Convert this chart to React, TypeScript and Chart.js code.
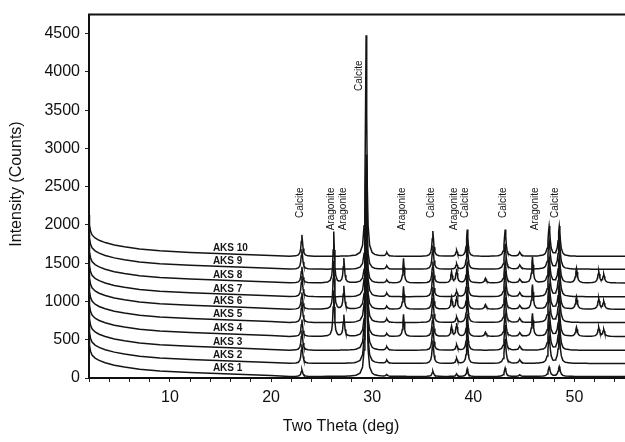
import React, { useEffect, useRef } from 'react';
import { Chart, registerables } from 'chart.js';

Chart.register(...registerables);

// ---- data ----
const SAMPLES = ['AKS 1', 'AKS 2', 'AKS 3', 'AKS 4', 'AKS 5', 'AKS 6', 'AKS 7', 'AKS 8', 'AKS 9', 'AKS 10'];
// vertical offset (counts) of each pattern
const OFFSETS = [0, 170, 342, 522, 705, 878, 1042, 1222, 1402, 1570];

// low-angle background rise above each pattern's offset (counts)
const BG_X = [2.0, 2.05, 2.15, 2.3, 2.6, 3.0, 3.6, 4.5, 5.5, 7, 9, 12, 16, 20];
const BG_Y = [560, 430, 350, 300, 260, 230, 200, 168, 145, 115, 92, 72, 52, 32];
const TAIL = 20;

// peak positions (deg 2θ) and half widths
const PEAK_POS = [23.05, 26.2, 27.2, 29.4, 31.45, 33.1, 36.0, 37.85, 38.35, 39.4, 41.2, 43.15, 44.6, 45.85, 47.5, 48.5, 50.2, 52.4, 52.9];
const PEAK_W = [0.09, 0.08, 0.08, 0.08, 0.1, 0.08, 0.09, 0.08, 0.09, 0.09, 0.1, 0.1, 0.12, 0.09, 0.12, 0.12, 0.1, 0.1, 0.1];

// peak heights (counts above baseline) per sample, aligned with PEAK_POS
const AKS1_H = [90, 0, 0, 2500, 20, 0, 70, 0, 30, 100, 0, 110, 20, 0, 120, 130, 0, 0, 0];
const AKS2_H = [250, 0, 0, 2300, 40, 0, 300, 0, 65, 320, 0, 320, 45, 0, 350, 370, 0, 0, 0];
const AKS3_H = [260, 0, 0, 2200, 45, 0, 310, 0, 70, 330, 0, 330, 50, 0, 360, 380, 0, 0, 0];
const AKS4_H = [220, 600, 280, 1700, 35, 290, 290, 130, 170, 290, 55, 290, 45, 300, 320, 340, 120, 120, 90];
const AKS5_H = [270, 0, 0, 1800, 45, 0, 320, 0, 70, 340, 0, 330, 50, 0, 370, 390, 0, 0, 0];
const AKS6_H = [220, 630, 300, 1500, 35, 300, 290, 150, 170, 290, 60, 290, 45, 320, 320, 340, 160, 140, 100];
const AKS7_H = [270, 0, 0, 1700, 45, 0, 320, 0, 70, 340, 0, 340, 50, 0, 380, 400, 0, 0, 0];
const AKS8_H = [210, 670, 320, 1300, 35, 320, 280, 140, 180, 280, 60, 280, 45, 340, 330, 350, 190, 150, 110];
const AKS9_H = [260, 0, 0, 1500, 40, 0, 310, 0, 70, 330, 0, 330, 50, 0, 370, 390, 0, 0, 0];
const AKS10_H = [280, 0, 0, 2890, 45, 0, 330, 0, 75, 350, 0, 350, 50, 0, 390, 390, 0, 0, 0];
const HEIGHTS = [AKS1_H, AKS2_H, AKS3_H, AKS4_H, AKS5_H, AKS6_H, AKS7_H, AKS8_H, AKS9_H, AKS10_H];

// sampling offsets around each peak (deg)
const PROFILE_DX = [-1.2, -0.6, -0.35, -0.2, -0.12, -0.06, 0, 0.06, 0.12, 0.2, 0.35, 0.6, 1.2];

// phase annotations (x in deg, y = value at the top end of the vertical text)
const PHASE_LABELS = ['Calcite', 'Aragonite', 'Aragonite', 'Calcite', 'Aragonite', 'Calcite', 'Aragonite', 'Calcite', 'Calcite', 'Aragonite', 'Calcite'];
const PHASE_X = [22.9, 25.95, 27.1, 28.7, 33.0, 35.8, 38.1, 39.2, 43.0, 46.1, 48.1];
const PHASE_Y = [2490, 2490, 2490, 4150, 2490, 2490, 2490, 2490, 2490, 2490, 2490];

const X_TICK_LABELS = [10, 20, 30, 40, 50];
const Y_TICKS = [0, 500, 1000, 1500, 2000, 2500, 3000, 3500, 4000, 4500];
const X_MIN = 2;
const X_MAX = 55;
const Y_MIN = 0;
const Y_MAX = 4750;

const FONT = '"Liberation Sans", Arial, Helvetica, sans-serif';

function buildSeries(i: number) {
  const pts: { x: number; y: number }[] = BG_X.map((x, k) => ({ x, y: OFFSETS[i] + BG_Y[k] }));
  const xs = new Set<number>();
  PEAK_POS.forEach((c) =>
    PROFILE_DX.forEach((d) => {
      const x = +(c + d).toFixed(3);
      if (x > 20 && x <= X_MAX) xs.add(x);
    })
  );
  xs.add(X_MAX);
  const sorted = Array.from(xs).sort((a, b) => a - b);
  sorted.forEach((x) => {
    let y = OFFSETS[i] + TAIL;
    PEAK_POS.forEach((c, j) => {
      const h = HEIGHTS[i][j];
      if (h) {
        const u = (x - c) / PEAK_W[j];
        y += h / (1 + u * u);
      }
    });
    pts.push({ x, y });
  });
  return pts;
}

const annotPlugin = {
  id: 'annot',
  afterDatasetsDraw(chart: any) {
    const { ctx, chartArea } = chart;
    const xs = chart.scales.x;
    const ys = chart.scales.y;
    ctx.save();
    ctx.fillStyle = '#151515';

    // phase labels (vertical, reading upward, top-aligned)
    ctx.font = `10px ${FONT}`;
    PHASE_LABELS.forEach((t, k) => {
      const px = xs.getPixelForValue(PHASE_X[k]);
      const py = ys.getPixelForValue(PHASE_Y[k]);
      ctx.save();
      ctx.translate(px, py);
      ctx.rotate(-Math.PI / 2);
      ctx.textAlign = 'right';
      ctx.textBaseline = 'middle';
      ctx.fillText(t, 0, 0);
      ctx.restore();
    });

    // sample labels
    ctx.font = `bold 10px ${FONT}`;
    ctx.textAlign = 'left';
    ctx.textBaseline = 'bottom';
    SAMPLES.forEach((s, i) => {
      const px = xs.getPixelForValue(14.25);
      const py = ys.getPixelForValue(OFFSETS[i] + 45) - 1;
      ctx.fillText(s, px, py);
    });

    // frame
    ctx.strokeStyle = '#111';
    ctx.lineWidth = 2;
    ctx.beginPath();
    ctx.moveTo(chartArea.right + 5, chartArea.bottom);
    ctx.lineTo(chartArea.left, chartArea.bottom);
    ctx.lineTo(chartArea.left, chartArea.top);
    ctx.lineTo(chartArea.right + 5, chartArea.top);
    ctx.stroke();

    // axis titles
    ctx.font = `16px ${FONT}`;
    ctx.fillStyle = '#111';
    ctx.textAlign = 'center';
    ctx.textBaseline = 'middle';
    ctx.fillText('Two Theta (deg)', 341, 427);
    ctx.save();
    ctx.translate(17, 184);
    ctx.rotate(-Math.PI / 2);
    ctx.fillText('Intensity (Counts)', 0, 0);
    ctx.restore();

    ctx.restore();
  },
};

export default function App() {
  const ref = useRef<HTMLCanvasElement | null>(null);

  useEffect(() => {
    if (!ref.current) return;
    const datasets = SAMPLES.map((s, i) => ({
      label: s,
      data: buildSeries(i),
      borderColor: '#141414',
      borderWidth: 1.5,
      pointRadius: 0,
      tension: 0,
      fill: false,
    }));
    const chart = new Chart(ref.current, {
      type: 'line',
      data: { datasets },
      plugins: [annotPlugin],
      options: {
        animation: false,
        responsive: true,
        maintainAspectRatio: false,
        layout: { padding: { top: 10, left: 0, right: 0, bottom: 0 } },
        plugins: { legend: { display: false }, tooltip: { enabled: false } },
        scales: {
          x: {
            type: 'linear',
            min: X_MIN,
            max: X_MAX,
            afterFit: (scale: any) => {
              scale.height = 64;
            },
            border: { display: false },
            grid: { display: true, drawOnChartArea: false, drawTicks: true, tickLength: 4, color: '#222', lineWidth: 1 },
            ticks: {
              stepSize: 2,
              includeBounds: false,
              autoSkip: false,
              maxRotation: 0,
              padding: 6,
              color: '#111',
              font: { family: FONT, size: 16 },
              callback: (v: any) => (X_TICK_LABELS.includes(Number(v)) ? String(v) : ''),
            },
          },
          y: {
            type: 'linear',
            min: Y_MIN,
            max: Y_MAX,
            afterFit: (scale: any) => {
              scale.width = 89;
            },
            afterBuildTicks: (scale: any) => {
              scale.ticks = Y_TICKS.map((v) => ({ value: v }));
            },
            border: { display: false },
            grid: { display: true, drawOnChartArea: false, drawTicks: true, tickLength: 4, color: '#222', lineWidth: 1 },
            ticks: {
              autoSkip: false,
              padding: 5,
              color: '#111',
              font: { family: FONT, size: 16 },
              callback: (v: any) => String(v),
            },
          },
        },
      },
    });
    return () => chart.destroy();
  }, []);

  return (
    <div style={{ position: 'fixed', left: 0, top: 0, width: 625, height: 442, background: '#fff' }}>
      <canvas ref={ref} />
    </div>
  );
}
